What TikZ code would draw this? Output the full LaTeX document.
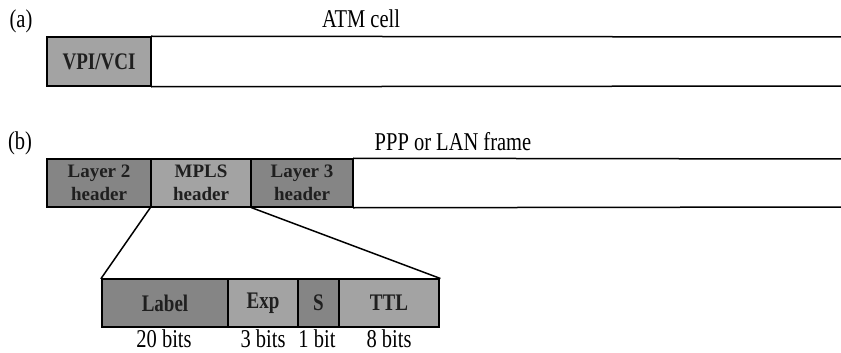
\documentclass[tikz,border=0pt]{standalone}
\usepackage{graphicx}
\usepackage{fontspec}
\setmainfont{Liberation Serif}
\newcommand{\vstretch}[1]{\scalebox{1}[1.25]{#1}}
\begin{document}
\begin{tikzpicture}[x=1pt,y=-1pt,
  cell/.style={draw=black,line width=1.5pt,fill=black!36,inner sep=0pt,
    font=\fontsize{19}{23}\selectfont\bfseries,text=black!88,align=center},
  darkcell/.style={cell,fill=black!48},
  lbl/.style={inner sep=0pt,font=\fontsize{20.5}{22}\selectfont},
  edge/.style={line width=1.5pt,line cap=rect}]
\useasboundingbox (0,0) rectangle (841,353);
% (a)
\node[lbl] (la) at (21,21) {\vstretch{(a)}};
\node[lbl] (atmt) at (361,19) {\vstretch{ATM cell}};
\node[cell,minimum width=104pt,minimum height=49pt] (vpi) at (99,61.5) {\vstretch{VPI/VCI}};
\coordinate (atmT) at (842,37);
\coordinate (atmB) at (842,86);
\draw[edge] (vpi.north east) -- (atmT);
\draw[edge] (vpi.south east) -- (atmB);
% (b)
\node[lbl] (lb) at (20,143) {\vstretch{(b)}};
\node[lbl] (ppp) at (453,142) {\vstretch{PPP or LAN frame}};
\node[darkcell,minimum width=104pt,minimum height=48pt] (l2) at (99,183) {Layer 2\\header};
\node[cell,minimum width=100pt,minimum height=48pt] (mpls) at (201,183) {MPLS\\header};
\node[darkcell,minimum width=102pt,minimum height=48pt] (l3) at (302,183) {Layer 3\\header};
\coordinate (frT) at (842,159);
\coordinate (frB) at (842,207);
\draw[edge] (l3.north east) -- (frT);
\draw[edge] (l3.south east) -- (frB);
% MPLS header detail
\node[darkcell,minimum width=126pt,minimum height=48pt] (label) at (165,303) {\vstretch{Label}};
\node[cell,minimum width=70pt,minimum height=48pt] (exp) at (263,303) {\vstretch{Exp}};
\node[darkcell,minimum width=41pt,minimum height=48pt] (s) at (318.5,303) {\vstretch{S}};
\node[cell,minimum width=100pt,minimum height=48pt] (ttl) at (389,303) {\vstretch{TTL}};
\draw[edge] (mpls.south west) -- (label.north west);
\draw[edge] (mpls.south east) -- (ttl.north east);
\node[lbl] (b20) at (164,339) {\vstretch{20 bits}};
\node[lbl] (b3) at (263,339) {\vstretch{3 bits}};
\node[lbl] (b1) at (317,339) {\vstretch{1 bit}};
\node[lbl] (b8) at (389,339) {\vstretch{8 bits}};
\end{tikzpicture}
\end{document}
